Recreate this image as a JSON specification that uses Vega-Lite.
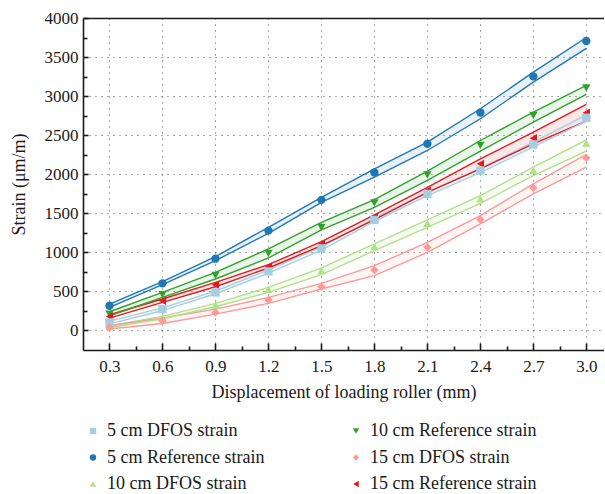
{
  "$schema": "https://vega.github.io/schema/vega-lite/v6.json",
  "width": 521,
  "height": 332,
  "padding": {"left": 10, "top": 9, "right": 0, "bottom": 0},
  "config": {
    "view": {"stroke": null},
    "font": "Liberation Serif",
    "axis": {
      "labelFont": "Liberation Serif", "labelFontSize": 17, "labelColor": "#1a1a1a",
      "titleFont": "Liberation Serif", "titleFontSize": 18, "titleFontWeight": "normal", "titleColor": "#1a1a1a",
      "domainColor": "#1a1a1a", "domainWidth": 1.6, "tickColor": "#1a1a1a", "tickWidth": 1.6,
      "gridColor": "#555555", "gridDash": [1, 5], "gridWidth": 1
    },
    "legend": {"labelFont": "Liberation Serif", "labelFontSize": 18, "labelColor": "#1a1a1a"}
  },
  "data": {"values": [
    {"series": "5 cm Reference strain", "x": 0.3, "v": 317, "lo": 295, "hi": 338},
    {"series": "5 cm Reference strain", "x": 0.6, "v": 603, "lo": 586, "hi": 624},
    {"series": "5 cm Reference strain", "x": 0.9, "v": 919, "lo": 894, "hi": 945},
    {"series": "5 cm Reference strain", "x": 1.2, "v": 1278, "lo": 1244, "hi": 1321},
    {"series": "5 cm Reference strain", "x": 1.5, "v": 1672, "lo": 1641, "hi": 1705},
    {"series": "5 cm Reference strain", "x": 1.8, "v": 2022, "lo": 1962, "hi": 2069},
    {"series": "5 cm Reference strain", "x": 2.1, "v": 2390, "lo": 2304, "hi": 2410},
    {"series": "5 cm Reference strain", "x": 2.4, "v": 2791, "lo": 2710, "hi": 2838},
    {"series": "5 cm Reference strain", "x": 2.7, "v": 3253, "lo": 3180, "hi": 3308},
    {"series": "5 cm Reference strain", "x": 3.0, "v": 3705, "lo": 3610, "hi": 3750},
    {"series": "10 cm Reference strain", "x": 0.3, "v": 210, "lo": 188, "hi": 240},
    {"series": "10 cm Reference strain", "x": 0.6, "v": 458, "lo": 423, "hi": 487},
    {"series": "10 cm Reference strain", "x": 0.9, "v": 705, "lo": 659, "hi": 744},
    {"series": "10 cm Reference strain", "x": 1.2, "v": 987, "lo": 928, "hi": 1044},
    {"series": "10 cm Reference strain", "x": 1.5, "v": 1321, "lo": 1287, "hi": 1385},
    {"series": "10 cm Reference strain", "x": 1.8, "v": 1633, "lo": 1577, "hi": 1676},
    {"series": "10 cm Reference strain", "x": 2.1, "v": 1992, "lo": 1920, "hi": 2040},
    {"series": "10 cm Reference strain", "x": 2.4, "v": 2368, "lo": 2295, "hi": 2432},
    {"series": "10 cm Reference strain", "x": 2.7, "v": 2753, "lo": 2667, "hi": 2795},
    {"series": "10 cm Reference strain", "x": 3.0, "v": 3107, "lo": 3022, "hi": 3137},
    {"series": "15 cm Reference strain", "x": 0.3, "v": 180, "lo": 159, "hi": 201},
    {"series": "15 cm Reference strain", "x": 0.6, "v": 381, "lo": 359, "hi": 403},
    {"series": "15 cm Reference strain", "x": 0.9, "v": 586, "lo": 560, "hi": 615},
    {"series": "15 cm Reference strain", "x": 1.2, "v": 821, "lo": 800, "hi": 842},
    {"series": "15 cm Reference strain", "x": 1.5, "v": 1108, "lo": 1086, "hi": 1137},
    {"series": "15 cm Reference strain", "x": 1.8, "v": 1449, "lo": 1419, "hi": 1479},
    {"series": "15 cm Reference strain", "x": 2.1, "v": 1791, "lo": 1769, "hi": 1833},
    {"series": "15 cm Reference strain", "x": 2.4, "v": 2133, "lo": 2069, "hi": 2197},
    {"series": "15 cm Reference strain", "x": 2.7, "v": 2462, "lo": 2390, "hi": 2538},
    {"series": "15 cm Reference strain", "x": 3.0, "v": 2787, "lo": 2680, "hi": 2894},
    {"series": "5 cm DFOS strain", "x": 0.3, "v": 103, "lo": 85, "hi": 120},
    {"series": "5 cm DFOS strain", "x": 0.6, "v": 274, "lo": 255, "hi": 290},
    {"series": "5 cm DFOS strain", "x": 0.9, "v": 487, "lo": 470, "hi": 505},
    {"series": "5 cm DFOS strain", "x": 1.2, "v": 756, "lo": 735, "hi": 775},
    {"series": "5 cm DFOS strain", "x": 1.5, "v": 1051, "lo": 1030, "hi": 1070},
    {"series": "5 cm DFOS strain", "x": 1.8, "v": 1415, "lo": 1395, "hi": 1435},
    {"series": "5 cm DFOS strain", "x": 2.1, "v": 1748, "lo": 1725, "hi": 1770},
    {"series": "5 cm DFOS strain", "x": 2.4, "v": 2047, "lo": 2020, "hi": 2075},
    {"series": "5 cm DFOS strain", "x": 2.7, "v": 2381, "lo": 2350, "hi": 2410},
    {"series": "5 cm DFOS strain", "x": 3.0, "v": 2723, "lo": 2680, "hi": 2760},
    {"series": "10 cm DFOS strain", "x": 0.3, "v": 51, "lo": 38, "hi": 60},
    {"series": "10 cm DFOS strain", "x": 0.6, "v": 167, "lo": 150, "hi": 180},
    {"series": "10 cm DFOS strain", "x": 0.9, "v": 325, "lo": 304, "hi": 346},
    {"series": "10 cm DFOS strain", "x": 1.2, "v": 526, "lo": 487, "hi": 551},
    {"series": "10 cm DFOS strain", "x": 1.5, "v": 765, "lo": 714, "hi": 800},
    {"series": "10 cm DFOS strain", "x": 1.8, "v": 1073, "lo": 1022, "hi": 1108},
    {"series": "10 cm DFOS strain", "x": 2.1, "v": 1372, "lo": 1321, "hi": 1415},
    {"series": "10 cm DFOS strain", "x": 2.4, "v": 1684, "lo": 1628, "hi": 1727},
    {"series": "10 cm DFOS strain", "x": 2.7, "v": 2047, "lo": 1983, "hi": 2090},
    {"series": "10 cm DFOS strain", "x": 3.0, "v": 2397, "lo": 2295, "hi": 2441},
    {"series": "15 cm DFOS strain", "x": 0.3, "v": 38, "lo": 18, "hi": 60},
    {"series": "15 cm DFOS strain", "x": 0.6, "v": 124, "lo": 90, "hi": 159},
    {"series": "15 cm DFOS strain", "x": 0.9, "v": 231, "lo": 210, "hi": 274},
    {"series": "15 cm DFOS strain", "x": 1.2, "v": 390, "lo": 346, "hi": 423},
    {"series": "15 cm DFOS strain", "x": 1.5, "v": 560, "lo": 531, "hi": 603},
    {"series": "15 cm DFOS strain", "x": 1.8, "v": 774, "lo": 701, "hi": 829},
    {"series": "15 cm DFOS strain", "x": 2.1, "v": 1064, "lo": 1000, "hi": 1128},
    {"series": "15 cm DFOS strain", "x": 2.4, "v": 1419, "lo": 1364, "hi": 1471},
    {"series": "15 cm DFOS strain", "x": 2.7, "v": 1826, "lo": 1748, "hi": 1877},
    {"series": "15 cm DFOS strain", "x": 3.0, "v": 2210, "lo": 2090, "hi": 2253}
  ]},
  "layer": [
    {
      "mark": {"type": "area", "opacity": 0.1},
      "encoding": {
        "x": {"field": "x", "type": "quantitative", "scale": {"domain": [0.15, 3.1], "nice": false, "zero": false},
          "axis": {"orient": "bottom", "title": "Displacement of loading roller (mm)",
            "values": [0.3, 0.45, 0.6, 0.75, 0.9, 1.05, 1.2, 1.35, 1.5, 1.65, 1.8, 1.95, 2.1, 2.25, 2.4, 2.55, 2.7, 2.85, 3.0],
            "format": ".1f", "labelOverlap": false, "labelFlush": false,
            "labelExpr": "abs(datum.value*10/3 - round(datum.value*10/3)) < 0.001 ? datum.label : ''",
            "tickSize": {"condition": {"test": "abs(datum.value*10/3 - round(datum.value*10/3)) < 0.001", "value": -7}, "value": -4},
            "gridOpacity": {"condition": {"test": "abs(datum.value*10/3 - round(datum.value*10/3)) < 0.001", "value": 1}, "value": 0},
            "labelPadding": 15, "titlePadding": 6.5}},
        "y": {"field": "lo", "type": "quantitative", "scale": {"domain": [-250, 4000], "nice": false, "zero": false},
          "axis": {"orient": "left", "title": "Strain (μm/m)",
            "values": [0, 250, 500, 750, 1000, 1250, 1500, 1750, 2000, 2250, 2500, 2750, 3000, 3250, 3500, 3750, 4000],
            "labelOverlap": false, "labelFlush": false, "format": "d",
            "labelExpr": "datum.value % 500 === 0 ? datum.label : ''",
            "tickSize": {"condition": {"test": "datum.value % 500 === 0", "value": -5}, "value": -4},
            "gridOpacity": {"condition": {"test": "datum.value % 500 === 0 && datum.value < 4000", "value": 1}, "value": 0},
            "labelPadding": 10, "titlePadding": 16}},
        "y2": {"field": "hi"},
        "color": {"field": "series", "type": "nominal"}
      }
    },
    {
      "mark": {"type": "line", "strokeWidth": 1.4},
      "encoding": {
        "x": {"field": "x", "type": "quantitative", "axis": {"orient": "top", "title": null, "labels": false, "ticks": false, "grid": false, "domain": true}},
        "y": {"field": "hi", "type": "quantitative", "axis": null},
        "color": {"field": "series", "type": "nominal"}
      }
    },
    {
      "mark": {"type": "line", "strokeWidth": 1.4},
      "encoding": {
        "x": {"field": "x", "type": "quantitative", "axis": null},
        "y": {"field": "lo", "type": "quantitative", "axis": null},
        "color": {"field": "series", "type": "nominal"}
      }
    },
    {
      "mark": {"type": "point", "filled": true, "opacity": 1, "size": 70},
      "encoding": {
        "x": {"field": "x", "type": "quantitative", "axis": null},
        "y": {"field": "v", "type": "quantitative", "axis": null},
        "color": {"field": "series", "type": "nominal",
          "scale": {"domain": ["5 cm DFOS strain", "5 cm Reference strain", "10 cm DFOS strain", "10 cm Reference strain", "15 cm DFOS strain", "15 cm Reference strain"],
            "range": ["#a6cee3", "#1f78b4", "#b2df8a", "#33a02c", "#fb9a99", "#e31a1c"]},
          "legend": {"orient": "none", "legendX": 1, "legendY": 404, "columns": 2, "title": null, "symbolSize": 40, "symbolOpacity": 1, "symbolStrokeWidth": 0, "labelOffset": 5, "rowPadding": 8.5, "columnPadding": 82, "padding": 0, "labelLimit": 400,
            "encode": {"symbols": {"update": {"opacity": {"value": 1}, "fillOpacity": {"value": 1}}}}}},
        "shape": {"field": "series", "type": "nominal",
          "scale": {"domain": ["5 cm DFOS strain", "5 cm Reference strain", "10 cm DFOS strain", "10 cm Reference strain", "15 cm DFOS strain", "15 cm Reference strain"],
            "range": ["square", "circle", "triangle-up", "triangle-down", "diamond", "triangle-left"]},
          "legend": {"orient": "none", "legendX": 1, "legendY": 404, "columns": 2, "title": null, "symbolSize": 40, "symbolOpacity": 1, "symbolStrokeWidth": 0, "labelOffset": 5, "rowPadding": 8.5, "columnPadding": 82, "padding": 0, "labelLimit": 400,
            "encode": {"symbols": {"update": {"opacity": {"value": 1}, "fillOpacity": {"value": 1}}}}}}
      }
    }
  ],
  "resolve": {"axis": {"x": "independent", "y": "independent"}}
}
